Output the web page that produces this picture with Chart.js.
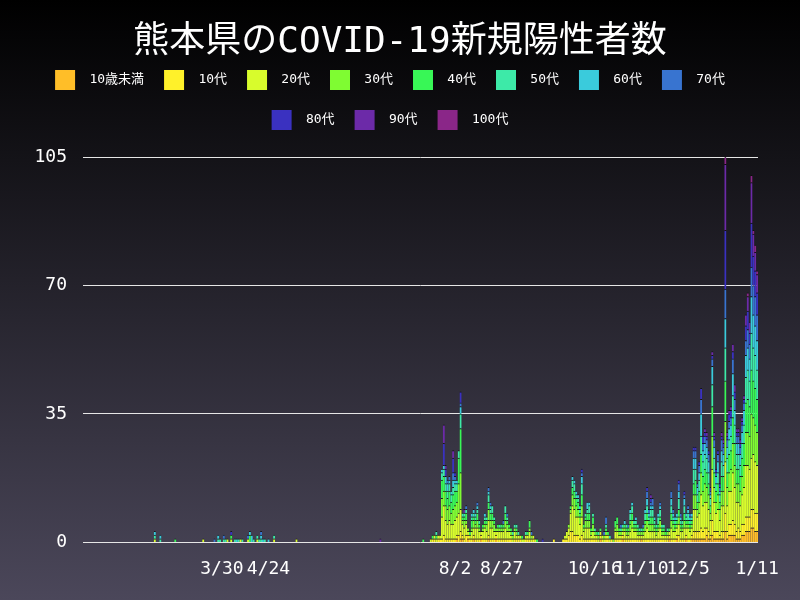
<!DOCTYPE html>
<html>
<head>
<meta charset="utf-8">
<script src="https://cdn.jsdelivr.net/npm/chart.js@4.4.0/dist/chart.umd.min.js"></script>
<style>
  body { margin: 0; background: #000; }
  #wrap { width: 800px; height: 600px; background: linear-gradient(to bottom, #000000, #4b475a); }
</style>
</head>
<body>
<div id="wrap"><canvas id="chart" width="800" height="600"></canvas></div>
<script>
// x軸の日付 (2020/1/16 〜 2021/1/11)
const startDate = new Date(2020, 0, 16);
const dayCount = 362;
const dates = [];
for (let i = 0; i < dayCount; i++) {
  const d = new Date(startDate.getFullYear(), startDate.getMonth(), startDate.getDate() + i);
  dates.push((d.getMonth() + 1) + "/" + d.getDate());
}

// 表示する目盛り
const tickLabels = ["3/30", "4/24", "8/2", "8/27", "10/16", "11/10", "12/5", "1/11"];

const ageGroups = ["10歳未満", "10代", "20代", "30代", "40代", "50代", "60代", "70代", "80代", "90代", "100代"];
const ageColors = ["#ffbe28", "#fff12a", "#d8fc2c", "#7ffc32", "#38f756", "#3deaa8", "#3acbdc", "#3874d0", "#3a31c0", "#6c2aa8", "#8a2688"];

function span(from, to) {
  return dates.slice(dates.indexOf(from), dates.indexOf(to) + 1);
}

// 陽性者が出た日
const caseDays = [
  "2/23", "2/26", "3/5", "3/20", "3/26", "3/28", "3/29", "3/31", "4/1", "4/2", "4/4", "4/6", "4/7", "4/8", "4/9",
  "4/10", "4/13", "4/14", "4/15", "4/16", "4/18", "4/19", "4/20", "4/21", "4/22", "4/24", "4/27", "5/9", "6/23",
  "7/16", ...span("7/20", "9/15"), "9/18", "9/24",
  ...span("9/29", "1/11"),
];

// 年代別の人数 (caseDays と同じ並び: 春29日 / 夏61日 / 秋冬105日)
const under10 = [
  0,0,0,0,0,0,0,0,0,0,0,0,0,0,0,0,0,0,0,0,0,0,0,0,0,0,0,0,0,
  0,0,0,0,0,0,0,0,0,0, 0,0,0,0,0,1,0,1,1,0, 0,1,0,0,1,0,0,0,1,0, 0,0,1,0,0,0,1,0,0,0, 0,0,0,0,0,0,0,0,0,0, 0,0,0,0,0,0,0,0,0,0,0,
  0,0,0,0,0,0,0,0,0,0, 0,0,0,0,0,0,0,0,0,0, 1,0,0,0,0,0,0,0,0,0, 0,0,1,0,0,0,0,0,0,0, 0,0,1,0,0,0,0,0,0,0,
  0,0,0,0,0,0,0,1,0,0, 0,1,0,0,0,0,1,0,0,1, 1,1,1,1,1,1,1,2,1,1, 2,1,1,1,1,1,1,3,1,2, 2,2,2,1,1,1,2,2,3,3, 3,4,4,3,3,
];
const age10s = [
  0,0,0,0,0,0,0,0,0,0,0,0,0,0,0,0,0,0,0,0,0,0,0,0,0,0,0,0,0,
  0,0,1,1,0,1,1,1,2,1, 1,1,1,1,1,1,2,2,1,1, 2,1,1,1,1,1,1,1,1,1, 1,1,1,1,1,1,1,1,1,1, 1,1,1,1,1,0,1,1,1,1, 0,0,1,1,1,0,1,0,0,0,1,
  1,1,1,2,3,3,2,2,2,1, 2,1,1,1,1,1,1,1,1,0, 1,1,0,1,1,0,1,0,1,1, 1,1,1,1,1,1,1,1,1,1, 1,1,0,1,1,1,1,1,1,1,
  1,1,1,1,1,1,1,1,1,1, 1,1,2,1,1,1,1,1,1,1, 2,2,2,2,3,2,3,2,2,1, 4,2,2,2,1,2,2,5,2,3, 3,4,3,2,3,2,3,3,4,4, 4,5,5,5,5,
];
const age20s = [
  1,0,0,1,0,0,0,0,0,1,1,0,0,0,1,0,1,0,0,0,1,0,0,0,0,0,1,1,0,
  0,1,0,1,1,1,1,6,8,5, 4,5,4,4,5,5,6,6,3,3, 3,1,1,2,2,3,3,2,1,2, 3,2,4,3,3,2,1,2,2,2, 2,3,2,2,1,1,2,1,1,1, 1,1,1,1,2,1,1,1,0,0,0,
  0,1,2,2,5,7,7,5,5,4, 5,2,3,3,3,1,2,1,1,1, 1,1,1,1,1,1,0,0,2,2, 1,1,1,2,1,1,2,3,2,2, 1,1,1,1,2,3,2,2,2,2,
  1,2,3,1,1,1,1,1,3,2, 2,2,3,2,2,3,2,3,2,2, 6,6,4,5,9,7,7,7,6,4, 14,8,5,6,4,7,7,14,7,9, 9,13,10,8,7,7,8,10,14,14, 13,14,15,14,13,
];
const age30s = [
  0,0,0,0,0,0,0,0,0,0,0,0,0,0,0,0,0,0,0,0,0,0,0,0,0,0,0,0,0,
  0,0,0,0,0,0,0,5,4,4, 4,4,3,4,4,4,8,10,1,2, 1,1,0,1,2,1,2,1,0,1, 1,2,3,2,2,2,1,1,1,1, 1,2,2,1,1,1,1,1,0,0, 0,0,0,0,1,1,0,0,0,0,0,
  0,0,0,1,1,3,3,3,2,2, 3,1,2,2,2,1,2,1,0,1, 0,0,1,1,0,0,0,1,1,2, 1,1,1,1,1,1,2,2,1,1, 1,1,1,1,2,2,2,2,2,1,
  1,1,2,1,1,0,1,0,2,2, 1,1,2,1,1,2,1,1,1,1, 4,4,2,3,6,4,5,4,4,2, 9,4,3,4,3,4,4,11,5,5, 6,8,6,5,5,4,5,6,9,9, 9,12,10,10,9,
];
const age40s = [
  0,0,1,0,0,0,0,0,0,0,1,0,0,0,0,0,0,2,0,0,0,0,0,0,0,0,0,0,0,
  1,0,1,0,1,0,0,5,4,4, 3,4,3,4,4,3,7,12,1,1, 2,0,1,2,1,1,2,1,0,1, 1,1,2,2,2,1,0,1,0,1, 1,2,1,1,1,0,0,1,0,0, 1,0,0,1,2,0,0,0,1,0,0,
  0,0,0,0,1,2,2,2,2,1, 3,1,1,2,2,1,2,0,1,0, 1,0,0,1,1,0,0,0,2,2, 1,0,0,1,1,1,1,2,1,1, 1,0,0,1,1,2,1,2,2,1,
  1,1,1,1,1,1,0,1,2,1, 1,1,2,1,1,2,1,1,1,1, 3,4,2,3,5,4,4,4,3,2, 8,4,3,3,2,4,4,11,4,5, 5,7,6,4,4,4,5,6,8,9, 8,12,10,10,9,
];
const age50s = [
  1,1,0,0,0,1,1,1,1,0,0,1,0,1,0,1,0,0,0,1,1,1,1,0,1,0,1,0,0,
  0,0,0,0,1,0,0,2,2,2, 2,2,2,2,2,2,2,4,1,1, 1,0,0,1,1,1,1,1,0,0, 1,1,2,1,2,1,0,0,1,0, 0,2,1,0,0,1,1,1,1,0, 0,0,1,0,0,0,0,0,0,0,0,
  0,0,0,0,0,2,2,1,1,1, 3,0,1,1,2,0,1,1,0,1, 0,0,0,1,0,1,0,0,0,0, 0,1,1,0,1,0,2,2,1,1, 1,1,1,0,2,2,1,2,2,1,
  1,2,2,1,1,0,1,0,2,1, 1,1,3,1,1,2,1,2,1,1, 4,3,2,3,5,4,4,4,3,2, 6,4,2,3,2,4,3,9,4,4, 4,6,5,4,4,3,4,5,7,8, 7,10,9,9,8,
];
const age60s = [
  1,1,0,0,0,1,0,0,0,0,0,0,1,0,0,0,0,1,2,0,0,0,1,1,0,1,0,0,0,
  0,0,0,0,0,0,0,1,1,2, 2,1,1,2,1,1,0,2,0,0, 0,0,0,1,1,1,1,0,0,0, 1,0,1,1,0,0,0,0,0,0, 0,0,0,0,0,0,0,0,0,0, 0,0,0,0,0,0,0,0,0,0,0,
  0,0,0,0,0,1,1,1,1,1, 2,0,0,2,1,0,0,0,0,0, 0,0,0,0,0,0,0,0,0,0, 0,0,0,1,0,0,1,1,0,1, 0,0,0,0,1,2,1,1,1,1,
  0,1,1,0,0,0,0,0,2,1, 1,1,2,1,0,2,1,1,1,1, 3,3,2,2,6,3,3,3,3,1, 5,3,2,3,1,3,3,8,3,3, 3,6,4,3,3,3,3,4,6,6, 6,10,9,8,8,
];
const age70s = [
  0,0,0,0,1,0,0,1,0,0,0,0,0,0,0,0,1,0,0,0,0,0,1,0,0,0,0,0,0,
  0,0,0,0,0,0,0,0,0,0, 1,1,0,2,1,0,0,1,0,0, 1,0,0,0,0,0,1,0,0,0, 0,0,1,1,0,0,0,0,0,0, 1,0,1,0,0,0,0,0,0,0, 0,0,0,0,0,1,0,0,0,0,0,
  0,0,0,0,0,0,0,0,0,0, 1,0,0,0,0,0,0,0,0,0, 0,0,1,2,0,0,0,0,0,0, 0,1,0,0,0,1,0,0,0,0, 0,0,0,1,0,2,1,1,2,0,
  0,0,1,0,0,0,0,0,2,1, 0,0,2,1,0,1,0,1,1,0, 2,2,1,2,4,2,2,2,2,1, 2,2,1,2,1,3,2,8,2,2, 2,4,3,2,2,2,2,2,4,5, 4,8,8,8,7,
];
const age80s = [
  0,0,0,0,0,0,0,0,0,0,1,0,0,0,0,0,0,0,0,0,0,0,0,0,0,0,0,0,0,
  0,0,0,0,0,0,0,0,6,2, 0,0,0,4,1,0,0,3,0,0, 0,0,0,0,0,0,0,0,0,0, 0,0,0,0,0,0,0,0,0,0, 0,0,0,0,0,0,0,0,0,0, 0,0,0,0,0,0,0,0,0,1,0,
  0,0,0,0,0,0,0,0,0,0, 1,0,0,0,0,0,0,0,0,0, 0,0,0,0,0,0,0,0,0,0, 0,0,0,0,0,0,0,0,0,0, 0,0,0,0,0,1,0,1,0,0,
  0,0,0,0,0,0,0,0,0,0, 0,0,1,0,0,1,0,0,0,0, 1,1,0,1,3,2,1,1,1,1, 1,1,1,1,1,1,1,16,1,2, 2,2,2,1,1,1,1,1,4,5, 3,12,8,7,6,
];
const age90s = [
  0,0,0,0,0,0,0,0,0,0,0,0,0,0,0,0,0,0,0,0,0,0,0,0,0,0,0,0,1,
  0,0,0,0,0,0,0,0,5,1, 0,0,0,2,0,0,0,0,0,1, 0,0,0,0,0,0,0,0,0,0, 0,0,0,0,0,0,0,0,0,0, 0,0,0,0,0,0,0,0,0,0, 0,0,0,0,0,0,0,0,0,0,0,
  0,0,0,0,0,0,0,0,0,0, 0,0,0,0,0,0,0,0,0,0, 0,0,0,0,0,0,0,0,0,0, 0,0,0,0,0,0,0,0,0,0, 0,0,0,0,0,0,0,1,0,0,
  0,0,0,0,0,0,0,0,0,0, 0,0,0,0,0,0,0,0,0,0, 0,0,0,0,0,0,1,1,0,0, 1,1,0,0,0,1,1,18,1,1, 1,2,2,1,1,1,1,1,3,4, 3,11,6,5,5,
];
const age100s = [
  0,0,0,0,0,0,0,0,0,0,0,0,0,0,0,0,0,0,0,0,0,0,0,0,0,0,0,0,0,
  0,0,0,0,0,0,0,0,0,0, 0,0,0,0,0,0,0,0,0,0, 0,0,0,0,0,0,0,0,0,0, 0,0,0,0,0,0,0,0,0,0, 0,0,0,0,0,0,0,0,0,0, 0,0,0,0,0,0,0,0,0,0,0,
  0,0,0,0,0,0,0,0,0,0, 0,0,0,0,0,0,0,0,0,0, 0,0,0,0,0,0,0,0,0,0, 0,0,0,0,0,0,0,0,0,0, 0,0,0,0,0,0,0,0,0,0,
  0,0,0,0,0,0,0,0,0,0, 0,0,0,0,0,0,0,0,0,0, 0,0,0,0,0,0,0,0,0,0, 0,0,0,0,0,0,0,2,0,0, 0,0,0,0,0,0,0,0,0,1, 0,2,1,2,1,
];

const ageSeries = [under10, age10s, age20s, age30s, age40s, age50s, age60s, age70s, age80s, age90s, age100s];

// 日付ごとのデータに並べ直す (0人の日は描かない)
const datasets = ageGroups.map((label, g) => {
  const series = ageSeries[g];
  if (series.length !== caseDays.length) console.error(label, series.length, caseDays.length);
  const data = dates.map(() => null);
  caseDays.forEach((day, k) => {
    if (series[k] > 0) data[dates.indexOf(day)] = series[k];
  });
  return {
    label: label,
    data: data,
    backgroundColor: ageColors[g],
    borderColor: "rgba(10,10,10,0.75)",
    borderWidth: { top: 1, right: 0, bottom: 0, left: 0 },
    borderSkipped: false,
    barPercentage: 1,
    categoryPercentage: 1,
  };
});

// 凡例の下に余白を足し、タイトルと凡例の横位置を合わせる
function shiftDraw(box, getShift) {
  const draw = box.draw;
  box.draw = function (...args) {
    this.ctx.save();
    this.ctx.translate(getShift(this), 0);
    draw.apply(this, args);
    this.ctx.restore();
  };
}
const boxTweaks = {
  id: "boxTweaks",
  beforeLayout(chart) {
    const legend = chart.legend;
    if (legend && !legend._patched) {
      const fit = legend.fit;
      legend.fit = function () {
        fit.call(this);
        this.height += 17;
      };
      shiftDraw(legend, (b) => 390 - (b.left + b.right) / 2);
      legend._patched = true;
    }
    const title = chart.titleBlock;
    if (title && !title._patched) {
      shiftDraw(title, (b) => chart.width / 2 - (b.left + b.right) / 2);
      title._patched = true;
    }
  },
};

const monoFont = "'DejaVu Sans Mono', 'Noto Sans CJK JP', monospace";

new Chart(document.getElementById("chart"), {
  type: "bar",
  data: { labels: dates, datasets: datasets },
  plugins: [boxTweaks],
  options: {
    responsive: false,
    animation: false,
    layout: { padding: { left: 0, right: 42, top: 0, bottom: 4 } },
    plugins: {
      title: {
        display: true,
        text: "熊本県のCOVID-19新規陽性者数",
        color: "#ffffff",
        font: { family: monoFont, size: 36, weight: "normal", lineHeight: 1 },
        padding: { top: 25, bottom: -11 },
      },
      legend: {
        position: "top",
        labels: {
          color: "#ffffff",
          font: { family: monoFont, size: 13 },
          boxWidth: 20,
          boxHeight: 20,
          padding: 20,
          generateLabels: (chart) =>
            Chart.defaults.plugins.legend.labels.generateLabels(chart).map((item) => ({
              ...item,
              text: " " + item.text,
              lineWidth: 0,
            })),
        },
      },
      tooltip: { enabled: false },
    },
    scales: {
      x: {
        stacked: true,
        grid: { display: false, drawTicks: false },
        border: { display: false },
        ticks: {
          color: "#ffffff",
          font: { family: monoFont, size: 18 },
          padding: 16,
          autoSkip: false,
          maxRotation: 0,
          minRotation: 0,
          callback: function (value) {
            const label = this.getLabelForValue(value);
            return tickLabels.includes(label) ? label : "";
          },
        },
      },
      y: {
        stacked: true,
        min: 0,
        max: 105,
        border: { display: false },
        grid: { color: "#e6e6e6", lineWidth: 1, drawTicks: false },
        afterFit: (scale) => { scale.width = 83; },
        ticks: {
          stepSize: 35,
          color: "#ffffff",
          font: { family: monoFont, size: 18 },
          padding: 16,
        },
      },
    },
  },
});
</script>
</body>
</html>
